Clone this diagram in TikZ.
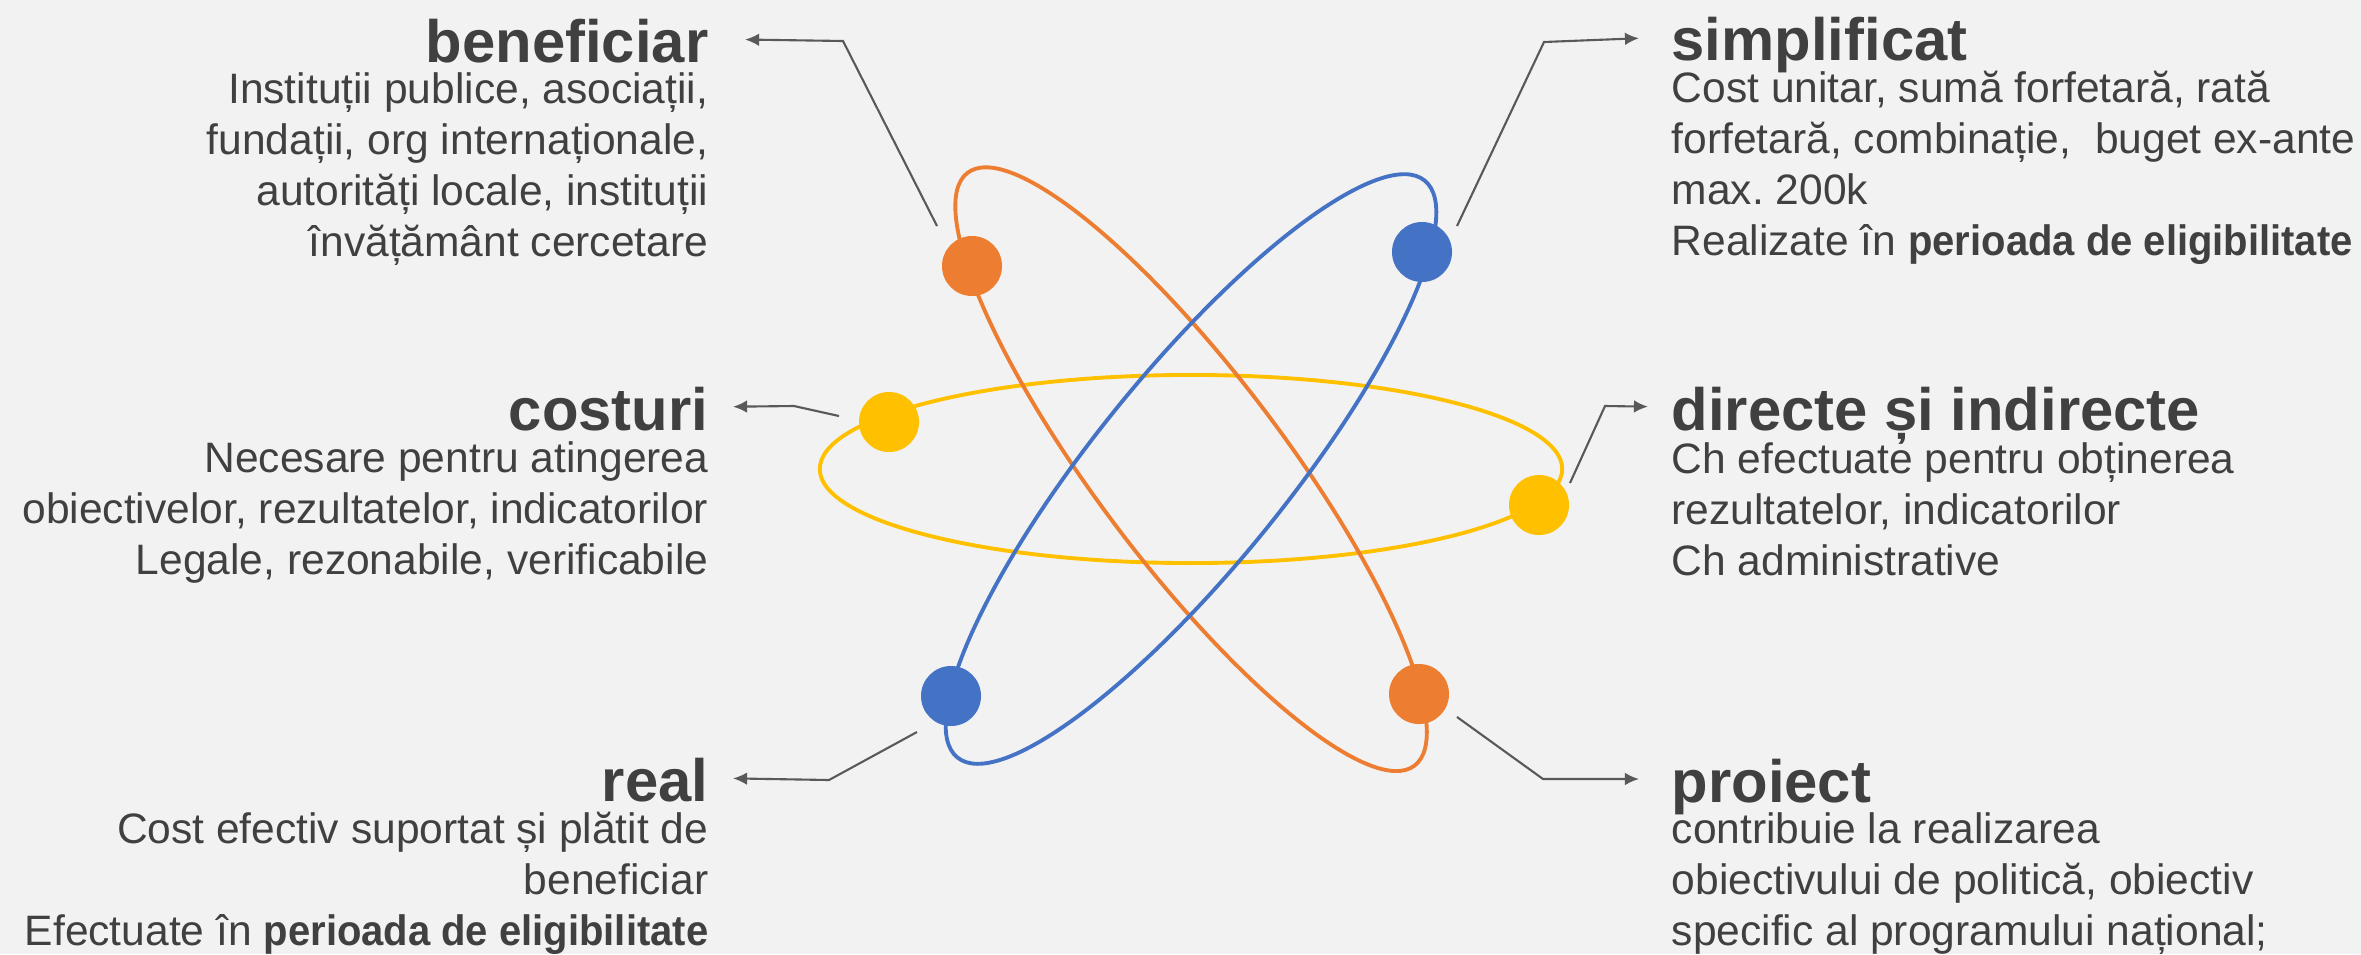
\documentclass[tikz,border=0pt]{standalone}
\usepackage{fontspec}
\setmainfont{Liberation Sans}
\usetikzlibrary{positioning, arrows.meta}

\definecolor{bg}{HTML}{F2F2F2}
\definecolor{ink}{HTML}{404040}
\definecolor{leader}{HTML}{595959}
\definecolor{orbitorange}{HTML}{ED7D31}
\definecolor{orbitblue}{HTML}{4472C4}
\definecolor{orbityellow}{HTML}{FFC000}

\newcommand{\keyterm}[1]{\scalebox{0.94}[1]{\bfseries #1}}

\tikzset{
  title/.style={font=\bfseries\fontsize{17}{20}\selectfont, text=ink, inner sep=0pt,
    text height=0.46cm, text depth=0pt},
  body/.style={font=\fontsize{12.1}{14.5}\selectfont\frenchspacing, text=ink, inner sep=0pt},
  orbit/.style={line width=1.1pt},
  dot/.style={circle, fill=#1, minimum size=0.6cm, inner sep=0pt},
  pointer/.style={->, draw=leader, line width=0.6pt},
}

\begin{document}
\begin{tikzpicture}[x=0.01cm, y=-0.01cm, >={Latex[length=4pt,width=3.6pt]}]

    \fill[bg] (0,0) rectangle (2361,954);
    \useasboundingbox (0,0) rectangle (2361,954);

    % atom
    \coordinate (core) at (1191,469);
    \draw[orbit, orbityellow] (core) ellipse [x radius=3.71cm, y radius=0.94cm];
    \draw[orbit, orbitorange, rotate around={-53:(core)}] (core) ellipse [x radius=3.71cm, y radius=0.94cm];
    \draw[orbit, orbitblue, rotate around={51:(core)}] (core) ellipse [x radius=3.71cm, y radius=0.96cm];

    \node[dot=orbitorange] (dot-ben) at (972,266) {};
    \node[dot=orbitblue] (dot-simp) at (1422,252) {};
    \node[dot=orbityellow] (dot-cost) at (889,422) {};
    \node[dot=orbityellow] (dot-dir) at (1539,505) {};
    \node[dot=orbitblue] (dot-real) at (951,696) {};
    \node[dot=orbitorange] (dot-proj) at (1419,694) {};

    % left side (body anchored at its last baseline)
    \node[title, anchor=base east] (beneficiar) at (709,62) {beneficiar};
    \node[body, align=right, anchor=base east] (beneficiar-text) at ([yshift=-1.94cm]beneficiar.base east)
        {Instituții publice, asociații,\\ fundații, org internaționale,\\ autorități locale, instituții\\ învățământ cercetare};

    \node[title, anchor=base east] (costuri) at (709,430) {costuri};
    \node[body, align=right, anchor=base east] (costuri-text) at ([yshift=-1.44cm]costuri.base east)
        {Necesare pentru atingerea\\ obiectivelor, rezultatelor, indicatorilor\\ Legale, rezonabile, verificabile};

    \node[title, anchor=base east] (real) at (709,801) {real};
    \node[body, align=right, anchor=base east] (real-text) at ([yshift=-1.44cm]real.base east)
        {Cost efectiv suportat și plătit de\\ beneficiar\\ Efectuate în \keyterm{perioada de eligibilitate}};

    % right side
    \node[title, anchor=base west] (simplificat) at (1671,60) {simplificat};
    \node[body, align=left, anchor=base west] (simplificat-text) at ([yshift=-1.95cm]simplificat.base west)
        {Cost unitar, sumă forfetară, rată\\ forfetară, combinație,\ \ buget ex-ante\\ max. 200k\\ Realizate în \keyterm{perioada de eligibilitate}};

    \node[title, anchor=base west] (directe) at (1671,430) {directe și indirecte};
    \node[body, align=left, anchor=base west] (directe-text) at ([yshift=-1.45cm]directe.base west)
        {Ch efectuate pentru obținerea\\ rezultatelor, indicatorilor\\ Ch administrative};

    \node[title, anchor=base west] (proiect) at (1671,802) {proiect};
    \node[body, align=left, anchor=base west] (proiect-text) at ([yshift=-1.43cm]proiect.base west)
        {contribuie la realizarea\\ obiectivului de politică, obiectiv\\ specific al programului național;};

    % leaders
    \coordinate (ben-from) at (937,226);
    \coordinate (ben-bend) at (843,41);
    \draw[pointer, shorten >=0.36cm] (ben-from) -- (ben-bend) -- (beneficiar.east);

    \coordinate (cost-from) at (839,416);
    \coordinate (cost-bend) at (794,406);
    \draw[pointer, shorten >=0.24cm] (cost-from) -- (cost-bend) -- (costuri.east);

    \coordinate (real-from) at (917,732);
    \coordinate (real-bend) at (829,780);
    \draw[pointer, shorten >=0.24cm] (real-from) -- (real-bend) -- (real.east);

    \coordinate (simp-from) at (1457,226);
    \coordinate (simp-bend) at (1544,42);
    \draw[pointer, shorten >=0.32cm] (simp-from) -- (simp-bend) -- (simplificat.west);

    \coordinate (dir-from) at (1570,483);
    \coordinate (dir-bend) at (1605,406);
    \draw[pointer, shorten >=0.23cm] (dir-from) -- (dir-bend) -- (directe.west);

    \coordinate (proj-from) at (1457,717);
    \coordinate (proj-bend) at (1543,779);
    \draw[pointer, shorten >=0.32cm] (proj-from) -- (proj-bend) -- (proiect.west);

\end{tikzpicture}
\end{document}
